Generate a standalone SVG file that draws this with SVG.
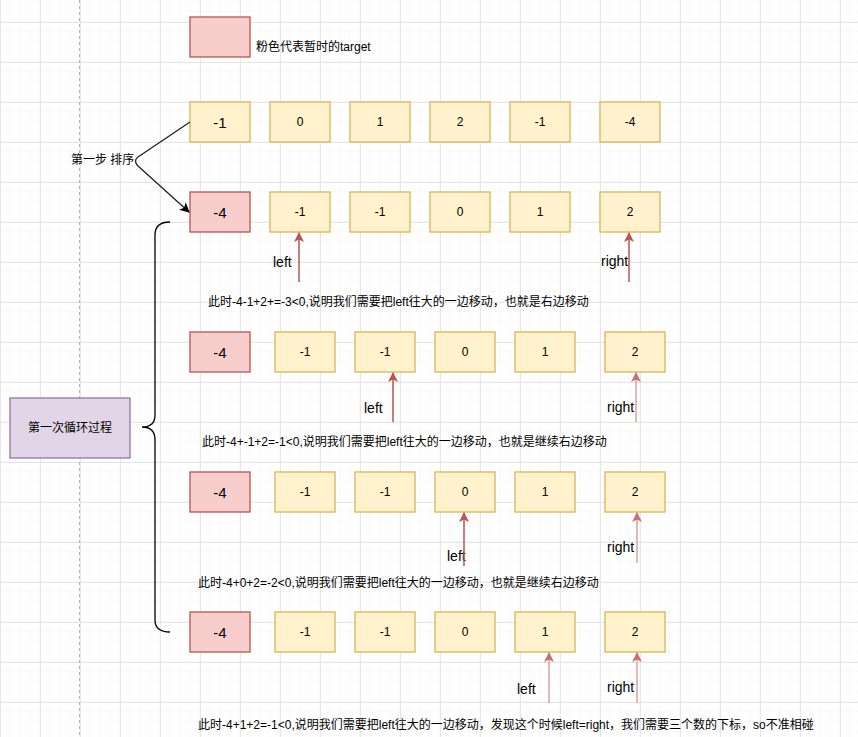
<svg xmlns="http://www.w3.org/2000/svg" width="858" height="737" viewBox="0 0 858 737">
<defs>
<pattern id="minor" width="10" height="10" patternUnits="userSpaceOnUse" x="0" y="2">
<path d="M10 0V10M0 10H10" fill="none" stroke="#f3f3f3" stroke-width="1"/>
</pattern>
<pattern id="major" width="40" height="40" patternUnits="userSpaceOnUse" x="0" y="22">
<path d="M0.5 0V40M0 0.5H40" fill="none" stroke="#e6e6e6" stroke-width="1"/>
</pattern>
<marker id="ahd" viewBox="0 0 10 10" refX="9" refY="5" markerWidth="10" markerHeight="10" markerUnits="userSpaceOnUse" orient="auto">
<path d="M0,0 L10,5 L0,10 L2.5,5 Z" fill="#b85450"/>
</marker>
<marker id="ahl" viewBox="0 0 10 10" refX="9" refY="5" markerWidth="10" markerHeight="10" markerUnits="userSpaceOnUse" orient="auto">
<path d="M0,0 L10,5 L0,10 L2.5,5 Z" fill="#c4716d"/>
</marker>
<marker id="ahk" viewBox="0 0 10 10" refX="9" refY="5" markerWidth="10" markerHeight="10" markerUnits="userSpaceOnUse" orient="auto">
<path d="M0,0 L10,5 L0,10 L2.5,5 Z" fill="#000"/>
</marker>
</defs>
<style>
text{font-family:"Liberation Sans","Noto Sans CJK SC",sans-serif;fill:#000}
.y{fill:#fff2cc;stroke:#d6b656;stroke-width:1.3}
.p{fill:#f8cecc;stroke:#b85450;stroke-width:1.3}
.v{fill:#e1d5e7;stroke:#9673a6;stroke-width:1.3}
.n{font-size:12px;text-anchor:middle;dominant-baseline:central}
.b{font-size:15px;text-anchor:middle;dominant-baseline:central}
.lbl{font-size:14px}
.s{font-size:12px}
.ad{stroke:#b85450;stroke-width:1.5;fill:none;marker-end:url(#ahd)}
.al{stroke:#d9a3a1;stroke-width:1.5;fill:none;marker-end:url(#ahl)}
</style>
<rect width="858" height="737" fill="#fff"/>
<rect width="858" height="737" fill="url(#minor)"/>
<rect width="858" height="737" fill="url(#major)"/>
<line x1="79.5" y1="0" x2="79.5" y2="737" stroke="#b3b3b3" stroke-dasharray="3 3"/>

<g id="legend">
<rect class="p" x="190" y="17" width="60" height="40"/>
<text class="s" x="256" y="51">粉色代表暂时的target</text>
</g>

<g id="row1">
<rect class="y" x="190" y="102" width="60" height="40"/><text class="b" x="220" y="122">-1</text>
<rect class="y" x="270" y="102" width="60" height="40"/><text class="n" x="300" y="122">0</text>
<rect class="y" x="350" y="102" width="60" height="40"/><text class="n" x="380" y="122">1</text>
<rect class="y" x="430" y="102" width="60" height="40"/><text class="n" x="460" y="122">2</text>
<rect class="y" x="510" y="102" width="60" height="40"/><text class="n" x="540" y="122">-1</text>
<rect class="y" x="600" y="102" width="60" height="40"/><text class="n" x="630" y="122">-4</text>
</g>

<g id="step1">
<text class="s" x="71" y="164">第一步 排序</text>
</g>

<g id="row2">
<rect class="p" x="190" y="192" width="60" height="40"/><text class="b" x="220" y="212">-4</text>
<rect class="y" x="270" y="192" width="60" height="40"/><text class="n" x="300" y="212">-1</text>
<rect class="y" x="350" y="192" width="60" height="40"/><text class="n" x="380" y="212">-1</text>
<rect class="y" x="430" y="192" width="60" height="40"/><text class="n" x="460" y="212">0</text>
<rect class="y" x="510" y="192" width="60" height="40"/><text class="n" x="540" y="212">1</text>
<rect class="y" x="600" y="192" width="60" height="40"/><text class="n" x="630" y="212">2</text>
<text class="lbl" x="273" y="267">left</text>
<text class="lbl" x="601" y="266">right</text>
<text class="s" x="208" y="306">此时-4-1+2+=-3&lt;0,说明我们需要把left往大的一边移动，也就是右边移动</text>
</g>

<g id="row3">
<rect class="p" x="190" y="332" width="60" height="40"/><text class="b" x="220" y="352">-4</text>
<rect class="y" x="275" y="332" width="60" height="40"/><text class="n" x="305" y="352">-1</text>
<rect class="y" x="355" y="332" width="60" height="40"/><text class="n" x="385" y="352">-1</text>
<rect class="y" x="435" y="332" width="60" height="40"/><text class="n" x="465" y="352">0</text>
<rect class="y" x="515" y="332" width="60" height="40"/><text class="n" x="545" y="352">1</text>
<rect class="y" x="605" y="332" width="60" height="40"/><text class="n" x="635" y="352">2</text>
<text class="lbl" x="364" y="413">left</text>
<text class="lbl" x="607" y="412">right</text>
<text class="s" x="202" y="446">此时-4+-1+2=-1&lt;0,说明我们需要把left往大的一边移动，也就是继续右边移动</text>
</g>

<g id="row4">
<rect class="p" x="190" y="472" width="60" height="40"/><text class="b" x="220" y="492">-4</text>
<rect class="y" x="275" y="472" width="60" height="40"/><text class="n" x="305" y="492">-1</text>
<rect class="y" x="355" y="472" width="60" height="40"/><text class="n" x="385" y="492">-1</text>
<rect class="y" x="435" y="472" width="60" height="40"/><text class="n" x="465" y="492">0</text>
<rect class="y" x="515" y="472" width="60" height="40"/><text class="n" x="545" y="492">1</text>
<rect class="y" x="605" y="472" width="60" height="40"/><text class="n" x="635" y="492">2</text>
<text class="lbl" x="447" y="561">left</text>
<text class="lbl" x="607" y="552">right</text>
<text class="s" x="198" y="587">此时-4+0+2=-2&lt;0,说明我们需要把left往大的一边移动，也就是继续右边移动</text>
</g>

<g id="row5">
<rect class="p" x="190" y="612" width="60" height="40"/><text class="b" x="220" y="632">-4</text>
<rect class="y" x="275" y="612" width="60" height="40"/><text class="n" x="305" y="632">-1</text>
<rect class="y" x="355" y="612" width="60" height="40"/><text class="n" x="385" y="632">-1</text>
<rect class="y" x="435" y="612" width="60" height="40"/><text class="n" x="465" y="632">0</text>
<rect class="y" x="515" y="612" width="60" height="40"/><text class="n" x="545" y="632">1</text>
<rect class="y" x="605" y="612" width="60" height="40"/><text class="n" x="635" y="632">2</text>
<text class="lbl" x="517" y="694">left</text>
<text class="lbl" x="607" y="692">right</text>
<text class="s" x="198" y="729">此时-4+1+2=-1&lt;0,说明我们需要把left往大的一边移动，发现这个时候left=right，我们需要三个数的下标，so不准相碰</text>
</g>

<g id="loop">
<rect class="v" x="10" y="398" width="120" height="60"/>
<text class="n" x="70" y="428">第一次循环过程</text>
</g>

<g id="connectors">
<path d="M190,122 L138,157 Q133,161 138,166 L189,212" fill="none" stroke="#222" stroke-width="1.3" marker-end="url(#ahk)"/>
<path d="M170,222 Q155,222 155,235 L155,415 Q155,427 142,427 Q155,427 155,440 L155,620 Q155,632 170,632" fill="none" stroke="#000" stroke-width="1.3"/>
<line class="ad" x1="299" y1="282" x2="299" y2="233"/>
<line class="ad" x1="629" y1="282" x2="629" y2="233"/>
<line class="ad" x1="393" y1="422" x2="393" y2="373"/>
<line class="al" x1="636" y1="422" x2="636" y2="373"/>
<line class="ad" x1="464" y1="566" x2="464" y2="513"/>
<line class="al" x1="637" y1="563" x2="637" y2="513"/>
<line class="al" x1="549" y1="703" x2="549" y2="653"/>
<line class="al" x1="637" y1="703" x2="637" y2="653"/>
</g>
</svg>
